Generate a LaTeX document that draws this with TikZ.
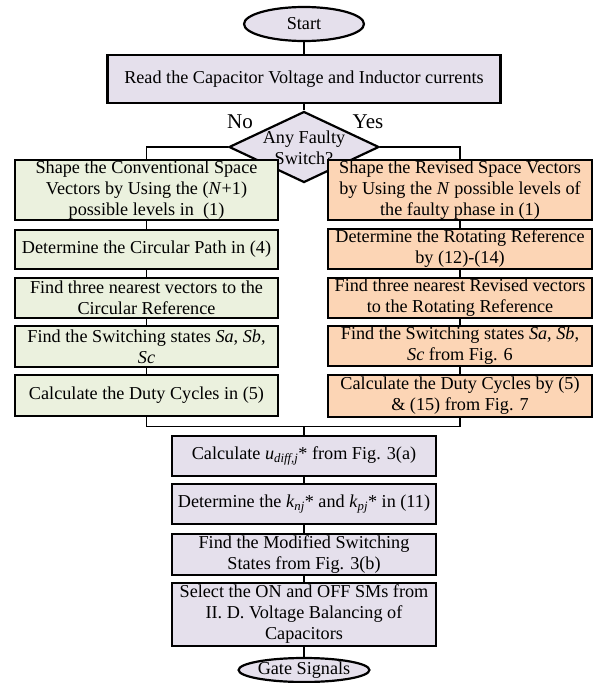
\documentclass[tikz,border=0pt]{standalone}
\usepackage{fontspec}
\setmainfont{Liberation Serif}
\usetikzlibrary{shapes.geometric}
\definecolor{lavande}{HTML}{E5E0EC}
\definecolor{vertpale}{HTML}{EBF1DE}
\definecolor{orangepale}{HTML}{FCD5B5}
\begin{document}
\begin{tikzpicture}[x=1pt,y=-1pt]
	% Styles (MODIFIABLES)
	\tikzstyle{trait}=[-,line width=1.5pt]
	\tikzstyle{boite}=[draw,line width=2.2pt,inner sep=0pt,align=center,font=\fontsize{18.2}{21}\selectfont]
	\tikzstyle{commun}=[boite,fill=lavande,minimum width=264pt]
	\tikzstyle{normal}=[boite,fill=vertpale,minimum width=263pt]
	\tikzstyle{defaut}=[boite,fill=orangepale,minimum width=264pt]
	\tikzstyle{terminal}=[boite,ellipse,fill=lavande,minimum width=120pt]
	\tikzstyle{decision}=[boite,diamond,fill=lavande,minimum width=150pt,minimum height=71pt]
	\tikzstyle{etiquette}=[font=\fontsize{21}{24}\selectfont]
	% Dimensions (MODIFIABLES)
	\def\ColonneGauche{146.5}
	\def\ColonneDroite{460}
	\def\ColonneCentre{304}
	\useasboundingbox (0,0) rectangle (600,683);
	% Noeuds
	\node[terminal,minimum height=34pt] (start) at ({\ColonneCentre},24) {Start};
	\node[commun,minimum width=393pt,minimum height=48pt] (read) at ({\ColonneCentre},79) {Read the Capacitor Voltage and Inductor currents};
	\node[decision] (faulty) at ({\ColonneCentre},147) {};
	\node[boite,draw=none] (faultytxt) at ({\ColonneCentre},148) {Any Faulty\\Switch?};
	\node[etiquette] (non) at (240,122) {No};
	\node[etiquette] (oui) at (368,122) {Yes};
	%
	\node[normal,minimum height=60pt] (L1) at ({\ColonneGauche},190) {Shape the Conventional Space\\Vectors by Using the (\textit{N}+1)\\possible levels in~ (1)};
	\node[normal,minimum height=39pt] (L2) at ({\ColonneGauche},249.5) {Determine the Circular Path in (4)};
	\node[normal,minimum height=40pt] (L3) at ({\ColonneGauche},298) {Find three nearest vectors to the\\Circular Reference};
	\node[normal,minimum height=41pt] (L4) at ({\ColonneGauche},346.5) {Find the Switching states \textit{Sa}, \textit{Sb},\\\textit{Sc}};
	\node[normal,minimum height=41pt] (L5) at ({\ColonneGauche},395.5) {Calculate the Duty Cycles in (5)};
	%
	\node[defaut,minimum height=60pt] (R1) at ({\ColonneDroite},190) {Shape the Revised Space Vectors\\by Using the \textit{N} possible levels of\\the faulty phase in (1)};
	\node[defaut,minimum height=40pt] (R2) at ({\ColonneDroite},249) {Determine the Rotating Reference\\by (12)-(14)};
	\node[defaut,minimum height=40pt] (R3) at ({\ColonneDroite},298) {Find three nearest Revised vectors\\to the Rotating Reference};
	\node[defaut,minimum height=40pt] (R4) at ({\ColonneDroite},346) {Find the Switching states \textit{Sa}, \textit{Sb},\\\textit{Sc} from Fig. 6};
	\node[defaut,minimum height=42pt] (R5) at ({\ColonneDroite},396) {Calculate the Duty Cycles by (5)\\\& (15) from Fig. 7};
	%
	\coordinate (jonction) at ({\ColonneCentre},426.5);
	\node[commun,minimum height=40pt] (B1) at ({\ColonneCentre},456) {Calculate \textit{u}\textsubscript{\textit{diff,j}}* from Fig. 3(a)};
	\node[commun,minimum height=40pt] (B2) at ({\ColonneCentre},504) {Determine the \textit{k}\textsubscript{\textit{nj}}* and \textit{k}\textsubscript{\textit{pj}}* in (11)};
	\node[commun,minimum height=41pt] (B3) at ({\ColonneCentre},554.5) {Find the Modified Switching\\States from Fig. 3(b)};
	\node[commun,minimum height=63pt] (B4) at ({\ColonneCentre},614.5) {Select the ON and OFF SMs from\\II. D. Voltage Balancing of\\Capacitors};
	\node[terminal,minimum width=119pt,minimum height=24pt] (gate) at ({\ColonneCentre},670) {Gate Signals};
	% Arcs
	\draw[trait] (start) -- (read);
	\draw[trait] (read) -- (faulty);
	\draw[trait] (faulty.west) -| (L1.north);
	\draw[trait] (faulty.east) -| (R1.north);
	\draw[trait] (L1) -- (L2);
	\draw[trait] (L2) -- (L3);
	\draw[trait] (L3) -- (L4);
	\draw[trait] (L4) -- (L5);
	\draw[trait] (R1) -- (R2);
	\draw[trait] (R2) -- (R3);
	\draw[trait] (R3) -- (R4);
	\draw[trait] (R4) -- (R5);
	\draw[trait] (L5.south) |- (jonction);
	\draw[trait] (R5.south) |- (jonction);
	\draw[trait] (jonction) -- (B1);
	\draw[trait] (B1) -- (B2);
	\draw[trait] (B2) -- (B3);
	\draw[trait] (B3) -- (B4);
	\draw[trait] (B4) -- (gate);
\end{tikzpicture}
\end{document}
